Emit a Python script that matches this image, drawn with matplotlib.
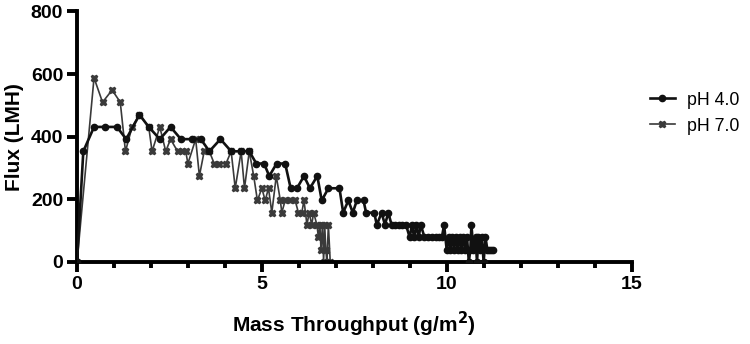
import matplotlib
matplotlib.use('Agg')
import matplotlib.pyplot as plt
from matplotlib.ticker import MultipleLocator

plt.rcParams['font.family'] = ['Liberation Sans', 'DejaVu Sans']

# pH 4.0 - mass throughput (g/m2) and flux (LMH)
x_ph4 = [0, 0.17, 0.46, 0.76, 1.08, 1.33, 1.69, 1.94, 2.24, 2.53, 2.81, 3.12, 3.35,
         3.58, 3.88, 4.17, 4.44, 4.66, 4.85, 5.06, 5.2, 5.4, 5.63, 5.78, 5.95, 6.14,
         6.3, 6.5, 6.62, 6.8, 7.1, 7.2, 7.34, 7.46, 7.57, 7.75, 7.82, 8.04, 8.11,
         8.24, 8.33, 8.42, 8.51, 8.6, 8.7, 8.8, 8.9, 9.0, 9.06, 9.12, 9.18, 9.24,
         9.3, 9.4, 9.5, 9.6, 9.7, 9.8, 9.87, 9.93, 10.0, 10.05, 10.1, 10.15, 10.2,
         10.25, 10.3, 10.35, 10.4, 10.45, 10.5, 10.55, 10.6, 10.64, 10.67, 10.72,
         10.78, 10.82, 10.86, 10.9, 10.95, 11.0, 11.05, 11.1, 11.15, 11.2, 11.26]
y_ph4 = [0, 353, 431, 431, 431, 392, 470, 431, 392, 431, 392, 392, 392,
         353, 392, 353, 353, 353, 314, 314, 274, 314, 314, 235, 235, 274,
         235, 274, 196, 235, 235, 157, 196, 157, 196, 196, 157, 157, 118,
         157, 118, 157, 118, 118, 118, 118, 118, 78, 118, 78, 118, 78,
         118, 78, 78, 78, 78, 78, 78, 118, 39, 78, 39, 78, 39,
         78, 39, 78, 39, 78, 39, 78, 0, 39, 118, 39,
         78, 0, 78, 39, 78, 0, 78, 39, 39, 39, 39]

# pH 7.0
x_ph7 = [0, 0.46, 0.69, 0.95, 1.17, 1.31, 1.49, 1.69, 1.94, 2.03, 2.24, 2.40, 2.53,
         2.72, 2.85, 2.94, 3.0, 3.21, 3.31, 3.44, 3.58, 3.71, 3.85, 4.03, 4.17,
         4.28, 4.44, 4.53, 4.66, 4.78, 4.88, 5.0, 5.09, 5.18, 5.27, 5.39, 5.5,
         5.54, 5.63, 5.75, 5.9, 5.99, 6.08, 6.14, 6.22, 6.28, 6.35, 6.40, 6.49,
         6.53, 6.57, 6.60, 6.64, 6.67, 6.70, 6.73, 6.76, 6.80, 6.85]
y_ph7 = [0, 588, 510, 549, 510, 353, 431, 470, 431, 353, 431, 353, 392,
         353, 353, 353, 314, 392, 274, 353, 353, 314, 314, 314, 353,
         235, 353, 235, 353, 274, 196, 235, 196, 235, 157, 274, 196,
         157, 196, 196, 196, 157, 157, 196, 118, 157, 118, 157, 118,
         78, 118, 39, 118, 0, 118, 39, 0, 118, 0]

fig = plt.figure(figsize=(7.5, 3.44), dpi=100)
ax = fig.add_axes([0.1027, 0.239, 0.7393, 0.7276])

ax.plot(x_ph4, y_ph4, color='#111111', lw=1.9, marker='o', ms=4.5, label='pH 4.0', zorder=3)
ax.plot(x_ph7, y_ph7, color='#3a3a3a', lw=1.2, marker='X', ms=5, label='pH 7.0', zorder=2)

ax.set_xlim(0, 15)
ax.set_ylim(0, 800)
ax.xaxis.set_major_locator(MultipleLocator(5))
ax.xaxis.set_minor_locator(MultipleLocator(1))
ax.yaxis.set_major_locator(MultipleLocator(200))

for s in ['top', 'right']:
    ax.spines[s].set_visible(False)
for s in ['left', 'bottom']:
    ax.spines[s].set_linewidth(2.8)
ax.tick_params(axis='both', which='major', width=2.8, length=7, labelsize=14, pad=3)
ax.tick_params(axis='x', which='minor', width=2.8, length=4)
for lab in ax.get_xticklabels() + ax.get_yticklabels():
    lab.set_fontweight('bold')

ax.set_xlabel('Mass Throughput (g/m$^\\mathbf{2}$)', fontsize=15, fontweight='bold', labelpad=12)
ax.set_ylabel('Flux (LMH)', fontsize=15, fontweight='bold', labelpad=5)

fig.legend(loc='upper left', bbox_to_anchor=(0.845, 0.78), frameon=False,
           fontsize=12.8, handlelength=1.4, handletextpad=0.7, labelspacing=0.5)

fig.savefig('out.png', dpi=100)
